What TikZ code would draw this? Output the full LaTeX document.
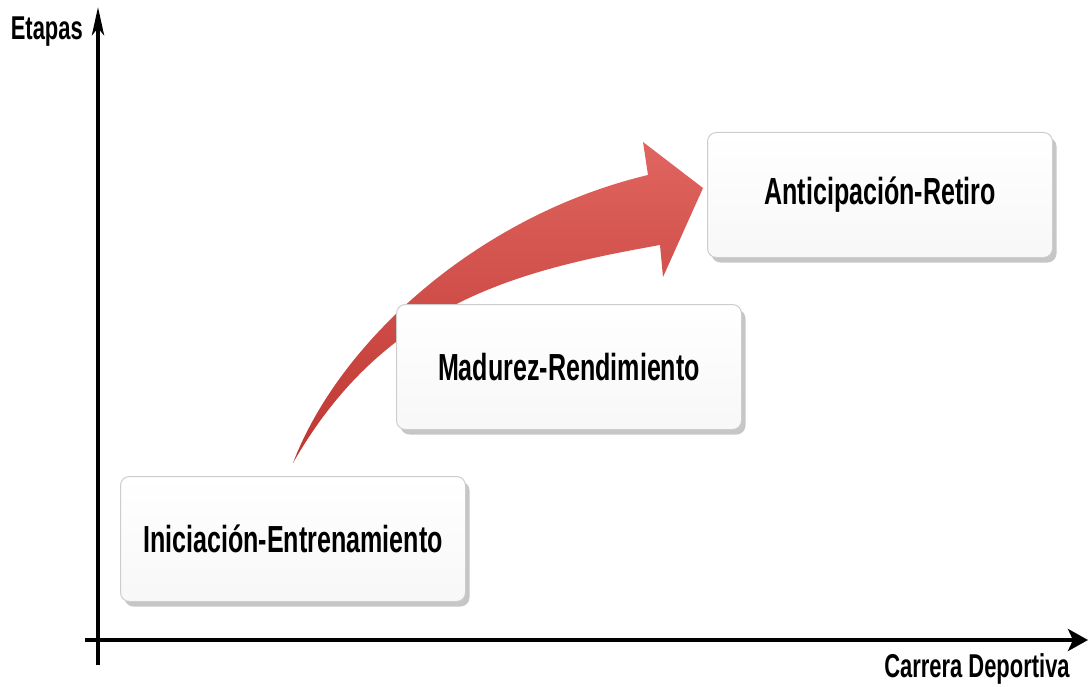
\documentclass[tikz,border=0pt]{standalone}
\usepackage{fontspec}
\setmainfont{Liberation Sans}
\usetikzlibrary{positioning,arrows.meta,shadows}

\definecolor{arrowred}{RGB}{216,62,56}
\definecolor{boxline}{RGB}{205,205,205}
\newcommand{\narrow}[1]{\scalebox{0.665}[1]{#1}}

\tikzset{
  stage/.style={draw=boxline, line width=1pt, rounded corners=9pt, top color=white, bottom color=black!3,
    minimum width=345pt, minimum height=125pt, inner sep=0pt,
    drop shadow={shadow xshift=4pt, shadow yshift=-5pt, opacity=0.45},
    font=\bfseries\fontsize{37.7}{40}\selectfont},
  axislabel/.style={inner sep=0pt, font=\bfseries\fontsize{33}{36}\selectfont},
  axisline/.style={line width=4.5pt}
}

\begin{document}
\begin{tikzpicture}[x=1pt,y=-1pt]
\useasboundingbox (0,0) rectangle (1089,687);

\coordinate (ybot) at (98,665); \coordinate (ytop) at (98,7);
\coordinate (xleft) at (85,640); \coordinate (xright) at (1088,640);

\draw[axisline, -{Stealth[length=28pt,width=12pt,inset=7pt]}] (ybot) -- (ytop);
\draw[axisline, -{Stealth[length=20pt,width=22pt,inset=5pt]}] (xleft) -- (xright);

\node[axislabel, left=15pt of ytop, yshift=-25pt] (ylab) {\narrow{Etapas}};
\node[axislabel, anchor=base] (xlab) at (977,677) {\narrow{Carrera Deportiva}};

\node[stage] (ini) at (293,539) {\narrow{Iniciación-Entrenamiento}};

\shade[top color=arrowred!80!white, middle color=arrowred, bottom color=arrowred!88!black]
  (293,463) .. controls (340,340) and (480,215) .. (648,175) -- (643,142) -- (703,188)
  -- (663,277) -- (660,245) .. controls (520,270) and (385,302) .. cycle;

\node[stage] (mad) at (569,367) {\narrow{Madurez-Rendimiento}};
\node[stage] (ant) at (880,195) {\narrow{Anticipación-Retiro}};
\end{tikzpicture}
\end{document}
